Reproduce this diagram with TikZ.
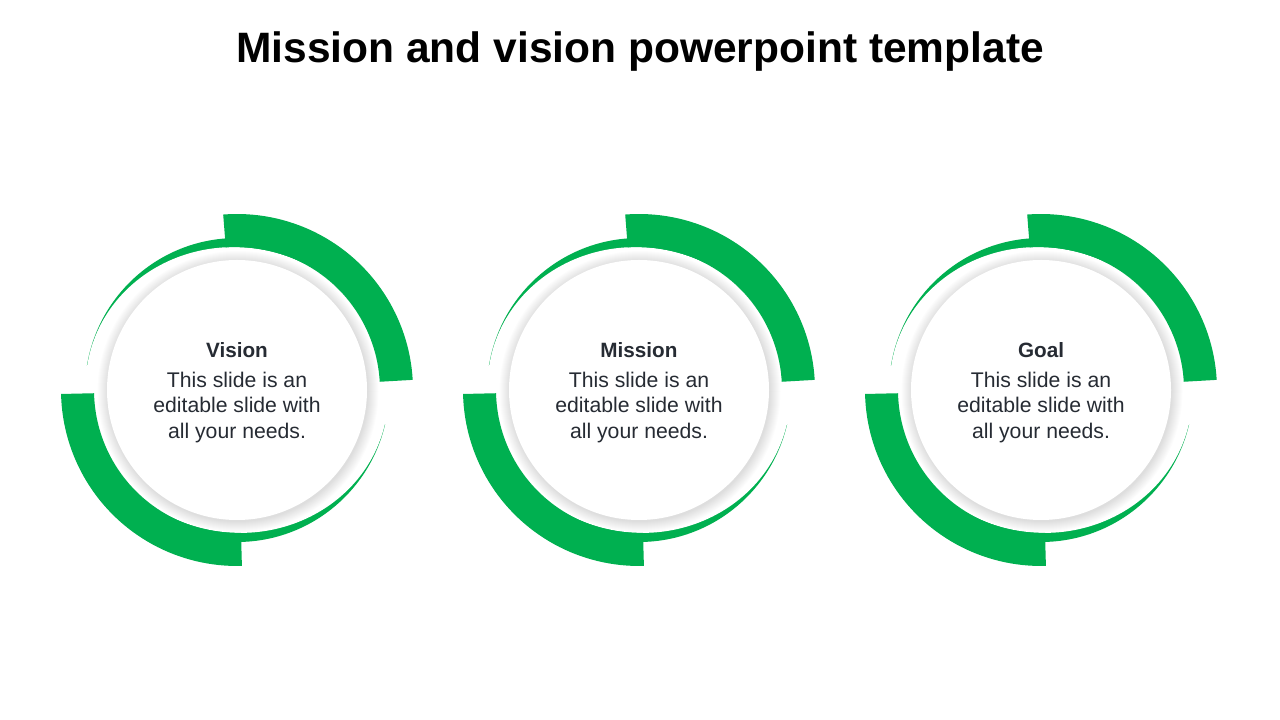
\documentclass[tikz,border=0pt]{standalone}
\usepackage{fontspec}
\setmainfont{Liberation Sans}
\definecolor{grn}{HTML}{00B050}
\definecolor{txt}{HTML}{262B33}
\tikzset{
  titletext/.style={font=\fontsize{42.5}{50}\selectfont\bfseries, text=black, inner sep=0pt},
  headtext/.style={font=\fontsize{20.7}{24}\selectfont\bfseries, text=txt, inner sep=0pt},
  bodytext/.style={font=\fontsize{21.2}{25.5}\selectfont, text=txt, align=center, inner sep=0pt},
  band/.style={fill=grn, draw=none},
  shadowring/.style={fill=black, opacity=0.013},
  eraser/.style={fill=white, draw=none},
}
\begin{document}
\begin{tikzpicture}[x=1pt,y=1pt]
\useasboundingbox (0,0) rectangle (1280,720);
\fill[white] (0,0) rectangle (1280,720);
\node[titletext, anchor=base] (title) at (640,657) {Mission and vision powerpoint template};
\foreach \cx/\name/\head in {237/vision/Vision, 639/mission/Mission, 1041/goal/Goal} {
  \begin{scope}[shift={(\cx,330)}]
    % thin crescent
    \fill[grn] (0,0) circle (152);
    \fill[white, rotate=-11] (0,0) ellipse (151.8 and 142.5);
    % erase the thin ends near the tangent points
    \fill[eraser] (171:140) arc[start angle=171, end angle=182, radius=140]
       -- (182:160) arc[start angle=182, end angle=171, radius=160] -- cycle;
    \fill[eraser] (-13:140) arc[start angle=-13, end angle=4, radius=140]
       -- (4:160) arc[start angle=4, end angle=-13, radius=160] -- cycle;
    % thick bands
    \fill[band] (3.3:176) arc[start angle=3.3, end angle=94.5, radius=176]
       -- (94.5:143) arc[start angle=94.5, end angle=3.3, radius=143] -- cycle;
    \fill[band] (181.3:176) arc[start angle=181.3, end angle=271.6, radius=176]
       -- (271.6:143) arc[start angle=271.6, end angle=181.3, radius=143] -- cycle;
    % shadow
    \foreach \i in {1,...,11} {
      \fill[shadowring] (1,-1.5) circle ({129.5+\i});
    }
    \fill[white] (0,0) circle (130);
    \node[headtext] (\name-head) at (0,40) {\head};
    \node[bodytext] (\name-body) at (0,-17.5) {This slide is an\\editable slide with\\all your needs.};
  \end{scope}
}
\end{tikzpicture}
\end{document}
